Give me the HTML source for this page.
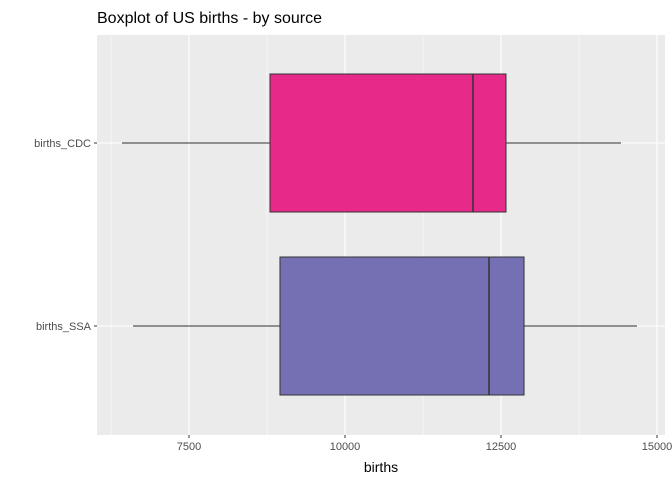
<!DOCTYPE html>
<html><head><meta charset="utf-8"><style>
body{margin:0;background:#fff;font-family:"Liberation Sans",sans-serif}
</style></head><body>
<svg id="c" width="672" height="480" xmlns="http://www.w3.org/2000/svg"></svg>
<script>
const categories=["births_CDC","births_SSA"];
const mins=[6426,6603];
const q1s=[8798,8958];
const medians=[12051,12308];
const q3s=[12580,12869];
const maxs=[14423,14679];
const colors=["#E7298A","#7570B3"];
const xTicks=[7500,10000,12500,15000];
const xTickLabels=["7500","10000","12500","15000"];
const xMinor=[6250,8750,11250,13750];
const NS="http://www.w3.org/2000/svg";
const svg=document.getElementById('c');
const L=97,R=665,T=35,B=435;
const x=v=>189+(v-7500)*(156/2500);
const y=i=>143+i*183;
function el(t,a,p){const e=document.createElementNS(NS,t);for(const k in a)e.setAttribute(k,a[k]);(p||svg).appendChild(e);return e;}
const bg=el('rect',{x:L,y:T,width:R-L,height:B-T,fill:'#EBEBEB'});


xMinor.forEach(v=>{const l=el('line',{x1:x(v),x2:x(v),y1:T,y2:B,stroke:'#fff','stroke-width':0.5});

});
xTicks.forEach((v,i)=>{const l=el('line',{x1:x(v),x2:x(v),y1:T,y2:B,stroke:'#fff','stroke-width':1.1});


const tk=el('line',{x1:x(v),x2:x(v),y1:B,y2:B+3,stroke:'#333'});


const t=el('text',{x:x(v),y:B+15,'text-anchor':'middle','font-size':11,fill:'#4D4D4D'});t.textContent=xTickLabels[i];

});
categories.forEach((c,i)=>{const cy=y(i);
const g=el('line',{x1:L,x2:R,y1:cy,y2:cy,stroke:'#fff','stroke-width':1.1});


const tk=el('line',{x1:L-3,x2:L,y1:cy,y2:cy,stroke:'#333'});


const t=el('text',{x:L-6,y:cy+4,'text-anchor':'end','font-size':11,fill:'#4D4D4D'});t.textContent=c;


const w1=el('line',{x1:x(mins[i]),x2:x(q1s[i]),y1:cy,y2:cy,stroke:'#333'});


const w2=el('line',{x1:x(q3s[i]),x2:x(maxs[i]),y1:cy,y2:cy,stroke:'#333'});


const b=el('rect',{x:x(q1s[i]),y:cy-69,width:x(q3s[i])-x(q1s[i]),height:138,fill:colors[i],stroke:'#333','stroke-width':1});


const m=el('line',{x1:x(medians[i]),x2:x(medians[i]),y1:cy-69,y2:cy+69,stroke:'#333','stroke-width':1.5});

});
const title=el('text',{x:97,y:23,'font-size':16,fill:'#000'});title.textContent="Boxplot of US births - by source";


const xl=el('text',{x:381,y:472,'text-anchor':'middle','font-size':14,fill:'#000'});xl.textContent="births";


</script>
</body></html>
